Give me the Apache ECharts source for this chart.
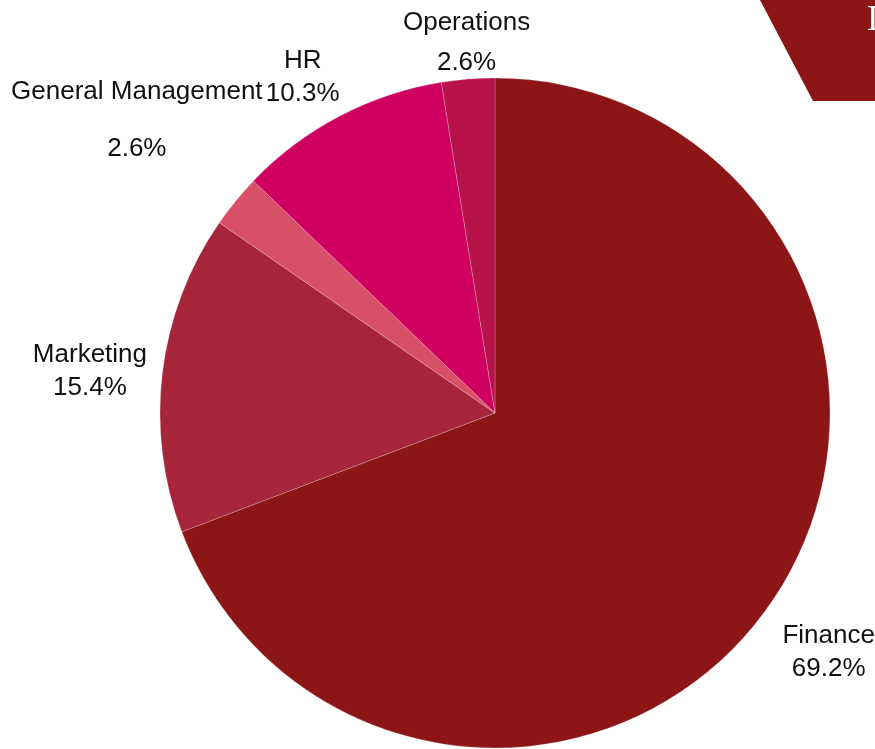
<!DOCTYPE html>
<html>
<head>
<meta charset="utf-8">
<script src="https://cdn.jsdelivr.net/npm/echarts@6/dist/echarts.min.js"></script>
<style>
  html, body { margin: 0; padding: 0; background: #fff; }
  #chart { width: 875px; height: 749px; }
</style>
</head>
<body>
<div id="chart"></div>
<script>
// data
const departments = ['Finance', 'Marketing', 'General Management', 'HR', 'Operations'];
const counts = [27, 6, 1, 4, 1];
const sliceColors = ['#8C1515', '#A6253A', '#D85068', '#CF0060', '#B8124A'];

const total = counts.reduce((a, b) => a + b, 0);
const pct = v => (v / total * 100).toFixed(1) + '%';

// small nudges so labels sit where the original put them
const labelShift = [
  { dx: 2, dy: 10 },
  { dx: -5, dy: 7 },
  { dx: -46, dy: -38 },
  { dx: -5, dy: 21 },
  { dx: 4, dy: 32 }
];
const labelLineHeight = { 'General Management': 57, 'Operations': 40 };

const chart = echarts.init(document.getElementById('chart'), null, { renderer: 'canvas' });

const pieData = departments.map((name, i) => ({
  name: name,
  value: counts[i],
  itemStyle: { color: sliceColors[i] }
}));

const labelData = departments.map((name, i) => ({
  name: name,
  value: counts[i],
  label: labelLineHeight[name] ? { lineHeight: labelLineHeight[name] } : {}
}));

const option = {
  backgroundColor: '#fff',
  animation: false,
  graphic: [
    {
      type: 'polygon',
      shape: { points: [[760, 0], [875, 0], [875, 101], [813, 101]] },
      style: { fill: '#8C1515' },
      z: 10
    },
    {
      type: 'text',
      z: 11,
      style: {
        x: 867,
        y: 21,
        text: 'Department Mix',
        fill: '#fff',
        verticalAlign: 'middle',
        font: '36px "Liberation Serif", serif'
      }
    }
  ],
  series: [
    {
      type: 'pie',
      center: [495, 413],
      radius: 335,
      startAngle: 90,
      clockwise: true,
      label: { show: false },
      labelLine: { show: false },
      itemStyle: { borderColor: 'rgba(255,255,255,0.35)', borderWidth: 0.6 },
      emphasis: { disabled: true },
      data: pieData
    },
    {
      // transparent ring only used to place the labels
      type: 'pie',
      center: [495, 413],
      radius: [370, 430],
      startAngle: 90,
      clockwise: true,
      silent: true,
      itemStyle: { color: 'rgba(0,0,0,0)' },
      labelLine: { show: false },
      label: {
        show: true,
        position: 'inside',
        color: '#111',
        fontFamily: '"Liberation Sans", Arial, sans-serif',
        fontSize: 26,
        lineHeight: 33,
        align: 'center',
        textBorderWidth: 0,
        formatter: p => p.name + '\n' + pct(p.value)
      },
      labelLayout: p => labelShift[p.dataIndex],
      emphasis: { disabled: true },
      data: labelData
    }
  ]
};

chart.setOption(option);
</script>
</body>
</html>
